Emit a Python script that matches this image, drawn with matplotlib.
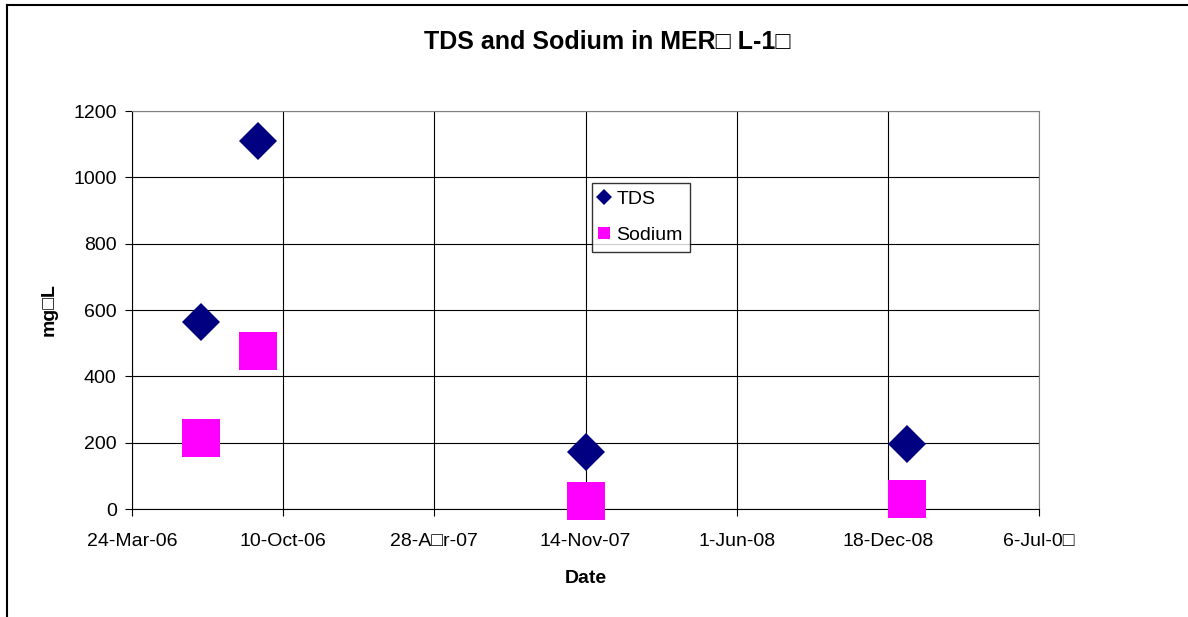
import matplotlib
matplotlib.use('Agg')
import matplotlib.pyplot as plt
from matplotlib.lines import Line2D
from datetime import date, timedelta

plt.rcParams['font.family'] = ['Liberation Sans', 'DejaVu Sans']

# data
dates = [date(2006, 6, 23), date(2006, 9, 7), date(2007, 11, 15), date(2009, 1, 12)]
tds = [565, 1110, 172, 196]
sodium = [214, 477, 24, 30]

x_start = date(2006, 3, 24)
x_step = 200  # days between grid lines
n_steps = 6
tick_labels = ['24-Mar-06', '10-Oct-06', '28-A\u25a1r-07', '14-Nov-07',
               '1-Jun-08', '18-Dec-08', '6-Jul-0\u25a1']

fig = plt.figure(figsize=(11.88, 6.17), dpi=100)
ax = fig.add_axes([0.1111, 0.175, 0.7635, 0.645])

ax.plot(dates, tds, linestyle='none', marker='D', ms=19.5, color='#000080',
        markeredgewidth=0, label='TDS', zorder=3, clip_on=False)
ax.plot(dates, sodium, linestyle='none', marker='s', ms=27, color='#ff00ff',
        markeredgewidth=0, label='Sodium', zorder=3, clip_on=False)

ticks = [x_start + timedelta(days=x_step * i) for i in range(n_steps + 1)]
ax.set_xlim(ticks[0], ticks[-1])
ax.set_xticks(ticks)
ax.set_xticklabels(tick_labels)
ax.set_ylim(0, 1200)
ax.set_yticks(range(0, 1201, 200))

ax.grid(True, color='black', linewidth=0.8)
ax.set_axisbelow(True)
for s in ax.spines.values():
    s.set_color('#808080')
ax.spines['bottom'].set_color('black')
ax.spines['left'].set_color('black')
ax.tick_params(labelsize=14, length=5, color='black', pad=6)
ax.tick_params(axis='x', pad=12)

# title is centred on the whole chart area, not on the plot
fig.text(0.511, 0.932, 'TDS and Sodium in MER\u25a1 L-1\u25a1', fontsize=18, fontweight='bold',
         ha='center', va='center')
ax.set_xlabel('Date', fontsize=14, fontweight='bold', labelpad=15)
ax.set_ylabel('mg\u25a1L', fontsize=14, fontweight='bold', labelpad=11)

handles = [Line2D([], [], linestyle='none', marker='D', ms=8, color='#000080', markeredgewidth=0),
           Line2D([], [], linestyle='none', marker='s', ms=8.5, color='#ff00ff', markeredgewidth=0)]
leg = ax.legend(handles, ['TDS', 'Sodium'], loc='upper left', bbox_to_anchor=(0.507, 0.82),
                fontsize=14, frameon=True, fancybox=False, edgecolor='black',
                handlelength=0.4, handletextpad=0.45, borderpad=0.4, labelspacing=0.95,
                borderaxespad=0)
leg.get_frame().set_linewidth(1.0)

# chart border (only left and top edges fall inside the picture)
fig.add_artist(Line2D([0.0059, 0.0059], [0.0, 0.9919], color='black', lw=1.5, transform=fig.transFigure))
fig.add_artist(Line2D([0.0059, 1.0], [0.9919, 0.9919], color='black', lw=1.5, transform=fig.transFigure))

fig.savefig('out.png', dpi=100)
